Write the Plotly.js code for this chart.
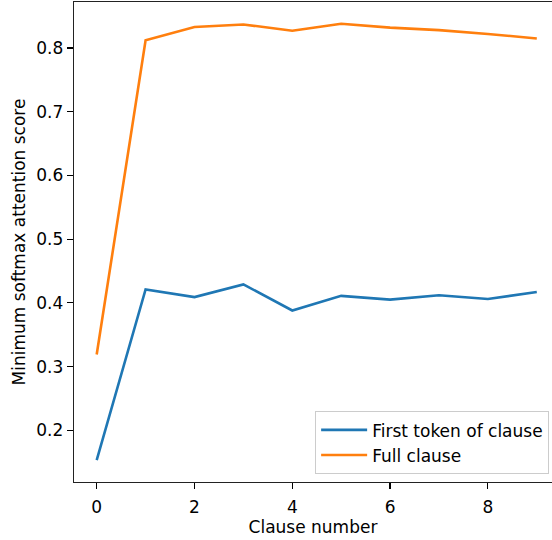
<!DOCTYPE html>
<html>
<head>
<meta charset="utf-8">
<script src="https://cdn.plot.ly/plotly-3.0.1.min.js"></script>
<style>html,body{margin:0;padding:0;background:#fff;}#chart{width:552px;height:540px;}</style>
</head>
<body>
<div id="chart"></div>
<script>
var clauseNumbers = [0, 1, 2, 3, 4, 5, 6, 7, 8, 9];
var firstTokenScores = [0.153, 0.421, 0.409, 0.429, 0.388, 0.411, 0.405, 0.412, 0.406, 0.417];
var fullClauseScores = [0.319, 0.812, 0.833, 0.837, 0.827, 0.838, 0.832, 0.828, 0.822, 0.815];
var seriesNames = ["First token of clause", "Full clause"];
var xTitle = "Clause number";
var yTitle = "Minimum softmax attention score";

var font = {family: "DejaVu Sans", size: 17, color: "#000"};

var traces = [
  {x: clauseNumbers, y: firstTokenScores, name: seriesNames[0], type: "scatter", mode: "lines",
   line: {color: "#1f77b4", width: 2.6}},
  {x: clauseNumbers, y: fullClauseScores, name: seriesNames[1], type: "scatter", mode: "lines",
   line: {color: "#ff7f0e", width: 2.6}}
];

var layout = {
  width: 552, height: 540,
  margin: {l: 74, r: 0, t: 2, b: 58, pad: 0},
  paper_bgcolor: "#fff", plot_bgcolor: "#fff",
  font: font,
  showlegend: true,
  legend: {
    x: 0.994, y: 0.016, xanchor: "right", yanchor: "bottom",
    bgcolor: "rgba(255,255,255,0.8)", bordercolor: "#cccccc", borderwidth: 1,
    font: font,
    itemwidth: 46,
    tracegroupgap: 0
  },
  xaxis: {
    range: [-0.464, 9.311],
    tickmode: "linear", tick0: 0, dtick: 2,
    ticks: "outside", ticklen: 6, tickwidth: 1.2, tickcolor: "#000",
    ticklabelstandoff: 3,
    showline: true, linecolor: "#222", linewidth: 1.3, mirror: true,
    showgrid: false, zeroline: false,
    tickfont: font,
    title: {text: xTitle, font: font, standoff: 4}
  },
  yaxis: {
    range: [0.1188, 0.8722],
    tickmode: "linear", tick0: 0.1, dtick: 0.1, tickformat: ".1f",
    ticks: "outside", ticklen: 6, tickwidth: 1.2, tickcolor: "#000",
    showline: true, linecolor: "#222", linewidth: 1.3, mirror: false,
    showgrid: false, zeroline: false,
    tickfont: font,
    title: {text: yTitle, font: font, standoff: 6}
  }
};

Plotly.newPlot("chart", traces, layout, {displayModeBar: false, staticPlot: true});
</script>
</body>
</html>
